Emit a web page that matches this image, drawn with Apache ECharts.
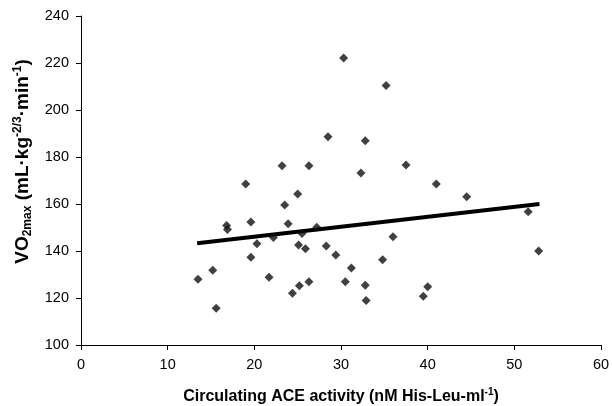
<!DOCTYPE html>
<html>
<head>
<meta charset="utf-8">
<script src="https://cdn.jsdelivr.net/npm/echarts@6/dist/echarts.min.js"></script>
<style>html,body{margin:0;padding:0;background:#fff}#c{width:612px;height:406px}</style>
</head>
<body>
<div id="c"></div>
<script>
// ACE activity (x) and VO2max (y)
const aceActivity = [30.3,35.2,28.5,32.8,23.2,26.3,32.3,37.5,19.0,41.0,25.0,44.5,23.5,51.6,19.6,23.9,16.8,16.9,27.2,25.5,22.2,36.0,20.3,25.1,28.3,25.9,29.4,19.6,34.8,31.2,15.2,52.8,21.7,13.5,30.5,26.3,32.8,25.2,40.0,24.4,39.5,32.9,15.6];
const vo2max = [222.1,210.4,188.6,186.9,176.3,176.3,173.2,176.6,168.5,168.5,164.3,163.1,159.6,156.7,152.3,151.6,150.8,149.2,150.1,147.4,145.7,146.1,143.1,142.6,142.1,141.0,138.3,137.3,136.3,132.8,131.8,140.0,128.8,128.0,126.9,126.9,125.4,125.2,124.8,122.0,120.7,118.9,115.6];
const trendX = [13.4, 52.9];
const trendY = [143.3, 160.0];
const xTicks = [0,10,20,30,40,50,60];
const yTicks = [100,120,140,160,180,200,220,240];

const points = aceActivity.map((x,i)=>[x, vo2max[i]]);
const trend = trendX.map((x,i)=>[x, trendY[i]]);
const FONT = '"Liberation Sans", Arial, Helvetica, sans-serif';

const chart = echarts.init(document.getElementById('c'), null, {renderer:'canvas'});
chart.setOption({
  animation:false,
  backgroundColor:'#fff',
  grid:{left:81, right:11, top:16, bottom:61, containLabel:false, outerBoundsMode:'none'},
  xAxis:{
    type:'value', min:xTicks[0], max:xTicks[xTicks.length-1], interval:10,
    axisLine:{show:true, onZero:false, lineStyle:{color:'#000', width:1}},
    axisTick:{show:true, length:5, lineStyle:{color:'#000'}},
    axisLabel:{color:'#000', fontSize:14.5, fontFamily:FONT, margin:12},
    splitLine:{show:false},
    name:'{b|Circulating ACE activity (nM His-Leu-ml}{sup|-1}{b|)}',
    nameLocation:'middle', nameGap:43,
    nameTextStyle:{
      rich:{
        b:{fontSize:16, fontWeight:'bold', fontFamily:FONT, color:'#000', lineHeight:18},
        sup:{fontSize:10, fontWeight:'bold', fontFamily:FONT, color:'#000', lineHeight:18, padding:[0,0,9,0]}
      }
    }
  },
  yAxis:{
    type:'value', min:yTicks[0], max:yTicks[yTicks.length-1], interval:20,
    axisLine:{show:true, onZero:false, lineStyle:{color:'#000', width:1}},
    axisTick:{show:true, length:5, lineStyle:{color:'#000'}},
    axisLabel:{color:'#000', fontSize:14.5, fontFamily:FONT, margin:12},
    splitLine:{show:false},
    name:'{b|VO}{sub|2max}{b| (mL·kg}{sup|-2/3}{b|·min}{sup|-1}{b|)}',
    nameLocation:'middle', nameGap:44, nameRotate:90,
    nameTextStyle:{
      padding:[0,0,0,38],
      rich:{
        b:{fontSize:19, fontWeight:'bold', fontFamily:FONT, color:'#000', lineHeight:22},
        sub:{fontSize:12, fontWeight:'bold', fontFamily:FONT, color:'#000', lineHeight:22, padding:[9,0,0,0]},
        sup:{fontSize:12, fontWeight:'bold', fontFamily:FONT, color:'#000', lineHeight:22, padding:[0,0,10,0]}
      }
    }
  },
  series:[
    {type:'scatter', data:points, symbol:'diamond', symbolSize:9, itemStyle:{color:'#111'}, z:3},
    {type:'line', data:trend, symbol:'none', lineStyle:{color:'#000', width:4}, z:2}
  ]
});
</script>
</body>
</html>
